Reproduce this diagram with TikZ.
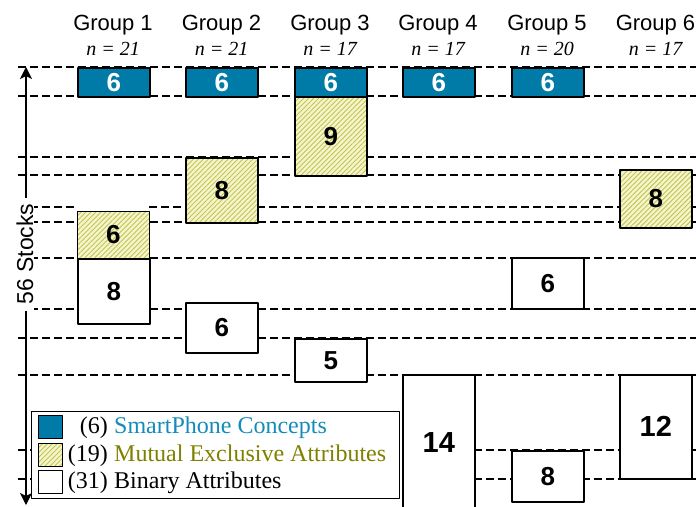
\documentclass[tikz,border=0pt]{standalone}
\usepackage{fontspec}
\setmainfont{Liberation Serif}
\setsansfont{Liberation Sans}
\usetikzlibrary{arrows.meta,patterns.meta}
\definecolor{conceptblue}{RGB}{0,122,167}
\definecolor{concepttext}{RGB}{20,140,185}
\definecolor{mxbg}{RGB}{245,245,205}
\definecolor{mxline}{RGB}{195,195,80}
\definecolor{mxtext}{RGB}{128,128,0}

\begin{document}
\begin{tikzpicture}[x=1pt,y=-1pt,line join=round,
		>={Stealth[length=12pt,width=12pt,inset=3pt]},
		cell/.style={draw,line width=1.6pt,inner sep=0pt,minimum width=72pt,anchor=north west,
			font=\sffamily\bfseries\fontsize{26}{26}\selectfont},
		concept/.style={cell,fill=conceptblue,text=white},
		mutex/.style={cell,preaction={fill=mxbg},
			pattern={Lines[angle=45,distance=3.5pt,line width=0.9pt]},pattern color=mxline},
		binary/.style={cell,fill=white},
		bigcell/.style={font=\sffamily\bfseries\fontsize{29}{29}\selectfont},
		level/.style={dash pattern=on 8pt off 4pt,line width=1.4pt},
		grouplabel/.style={anchor=base,font=\sffamily\fontsize{22}{22}\selectfont},
		countlabel/.style={anchor=base,font=\itshape\fontsize{20}{20}\selectfont},
		keytext/.style={inner sep=0pt,font=\fontsize{24}{24}\selectfont}]
	\useasboundingbox (0,0) rectangle (696,506);
	
	% levels of stocks
	\foreach \y in {67,96,157,175,222,258,309,338,375,450,479} {
		\draw[level] (18,\y) -- (696,\y);
	}
	\draw[level] (18,207) -- (77,207) (149,207) -- (696,207);
	
	% stock axis
	\coordinate (axtop) at (26,67);
	\coordinate (axbot) at (26,505);
	\draw[<->,line width=1.6pt] (axtop) -- (axbot);
	\node[fill=white,rotate=90,inner xsep=6pt,inner ysep=1pt,
		font=\sffamily\fontsize{23}{23}\selectfont] (stocks) at (25,254) {56 Stocks};
	
	% group headers
	\foreach \cx/\n [count=\i] in {113/21,221.5/21,330/17,438/17,547/20,655.5/17} {
		\node[grouplabel] (grp\i) at (\cx,30) {Group \i};
		\node[countlabel] (n\i) at (\cx,55) {n = \n};
	}
	
	% group 1
	\node[concept,minimum height=29pt] (g1con) at (77,67) {6};
	\node[mutex,minimum height=47pt] (g1mx) at (77,211) {6};
	\node[binary,minimum height=65pt] (g1bin) at (77,258) {8};
	
	% group 2
	\node[concept,minimum height=29pt] (g2con) at (185,67) {6};
	\node[mutex,minimum height=65pt] (g2mx) at (185,157) {8};
	\node[binary,minimum height=50pt] (g2bin) at (185,302) {6};
	
	% group 3
	\node[concept,minimum height=29pt] (g3con) at (294,67) {6};
	\node[mutex,minimum height=79pt] (g3mx) at (294,96) {9};
	\node[binary,minimum height=43pt] (g3bin) at (294,338) {5};
	
	% group 4
	\node[concept,minimum height=29pt] (g4con) at (402,67) {6};
	\node[binary,bigcell,minimum height=136pt] (g4bin) at (402,374) {14};
	
	% group 5
	\node[concept,minimum height=29pt] (g5con) at (511,67) {6};
	\node[binary,minimum height=51pt] (g5bin) at (511,257) {6};
	\node[binary,minimum height=51pt] (g5binb) at (511,450) {8};
	
	% group 6
	\node[mutex,minimum height=58pt] (g6mx) at (619,169) {8};
	\node[binary,bigcell,minimum height=104pt] (g6bin) at (619,374) {12};
	
	% legend
	\node[draw,fill=white,line width=1.3pt,inner sep=0pt,anchor=north west,
		minimum width=368pt,minimum height=87pt] (legend) at (31,411) {};
	\node[concept,line width=1.3pt,minimum width=24pt,minimum height=23pt] (keycon) at (38,415) {};
	\node[mutex,line width=1.3pt,minimum width=24pt,minimum height=23pt] (keymx) at (38,443) {};
	\node[binary,line width=1.3pt,minimum width=24pt,minimum height=23pt] (keybin) at (38,470) {};
	\node[keytext,anchor=base east] (keyconn) at (108,433) {(6)};
	\node[keytext,anchor=base east] (keymxn) at (108,461) {(19)};
	\node[keytext,anchor=base east] (keybinn) at (108,488) {(31)};
	\node[keytext,anchor=base west,text=concepttext] (keycont) at (114,433) {SmartPhone Concepts};
	\node[keytext,anchor=base west,text=mxtext] (keymxt) at (114,461) {Mutual Exclusive Attributes};
	\node[keytext,anchor=base west] (keybint) at (114,488) {Binary Attributes};
\end{tikzpicture}
\end{document}
